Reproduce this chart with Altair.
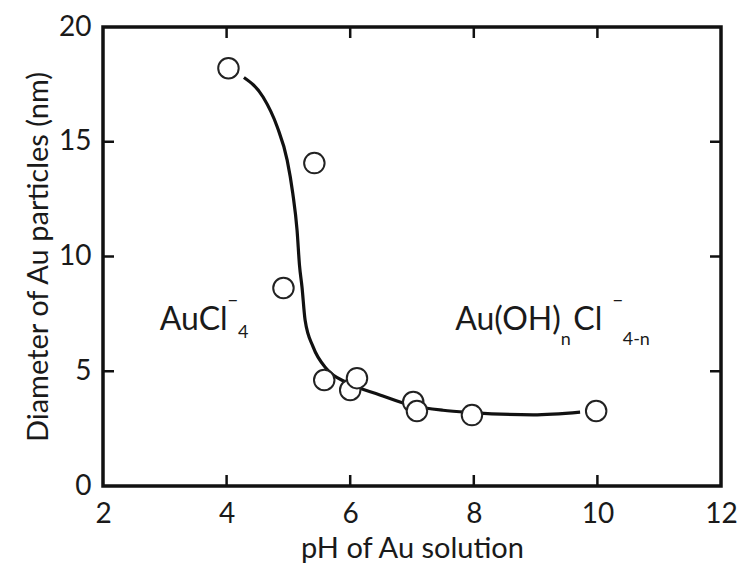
import altair as alt
import pandas as pd

# Measured particle diameters vs. pH
ph_values = [4.03, 5.42, 4.92, 5.58, 6.0, 6.11, 7.02, 7.08, 7.97, 9.98]
diameter_nm = [18.2, 14.07, 8.63, 4.62, 4.18, 4.7, 3.66, 3.27, 3.09, 3.27]

# Guide-to-the-eye trend curve
curve_ph = [4.28, 4.59, 4.82, 4.98, 5.07, 5.14, 5.18, 5.22, 5.27, 5.40, 5.62,
            5.95, 6.48, 6.97, 7.5, 7.97, 8.96, 9.72]
curve_nm = [17.8, 16.95, 15.64, 14.2, 12.77, 11.15, 9.6, 8.67, 7.23, 6.06, 5.1,
            4.5, 3.97, 3.53, 3.3, 3.2, 3.1, 3.22]

x_ticks = [2, 4, 6, 8, 10, 12]
y_ticks = [0, 5, 10, 15, 20]
x_inner_ticks = [4, 6, 8, 10]
y_inner_ticks = [5, 10, 15]

W, H = 618, 459
FONT = "Lato"
INK = "#1a1a1a"
TICK = 11

points = pd.DataFrame({"ph": ph_values, "d": diameter_nm})
curve = pd.DataFrame({"ph": curve_ph, "d": curve_nm})
xt = pd.DataFrame({"ph": x_inner_ticks})
yt = pd.DataFrame({"d": y_inner_ticks})

xscale = alt.Scale(domain=[2, 12], nice=False, zero=False)
yscale = alt.Scale(domain=[0, 20], nice=False)

xaxis = alt.Axis(values=x_ticks, format="d", title="pH of Au solution", grid=False, ticks=False,
                 domain=False, labelFont=FONT, labelFontSize=28, labelColor=INK,
                 labelPadding=14, titleFont=FONT, titleFontSize=29, titleFontWeight="normal",
                 titleColor=INK, titlePadding=6, labelFlush=False)
yaxis = alt.Axis(values=y_ticks, format="d", title="Diameter of Au particles (nm)", grid=False,
                 ticks=False, domain=False, labelFont=FONT, labelFontSize=28, labelColor=INK,
                 labelPadding=12, titleFont=FONT, titleFontSize=29, titleFontWeight="normal",
                 titleColor=INK, titlePadding=5, labelFlush=False)

line = alt.Chart(curve).mark_line(color="#111", strokeWidth=3.2, interpolate="monotone").encode(
    x=alt.X("ph:Q", scale=xscale, axis=xaxis),
    y=alt.Y("d:Q", scale=yscale, axis=yaxis),
)

dots = alt.Chart(points).mark_point(shape="circle", filled=False, fill="white", fillOpacity=1,
                                    stroke="#222", strokeWidth=2, size=420, opacity=1).encode(
    x=alt.X("ph:Q", scale=xscale), y=alt.Y("d:Q", scale=yscale)
)

# Inward ticks on all four sides
top_ticks = alt.Chart(xt).mark_rule(color="#111", strokeWidth=2.5).encode(
    x=alt.X("ph:Q", scale=xscale), y=alt.value(0), y2=alt.value(TICK))
bottom_ticks = alt.Chart(xt).mark_rule(color="#111", strokeWidth=2.5).encode(
    x=alt.X("ph:Q", scale=xscale), y=alt.value(H), y2=alt.value(H - TICK))
left_ticks = alt.Chart(yt).mark_rule(color="#111", strokeWidth=2.5).encode(
    y=alt.Y("d:Q", scale=yscale), x=alt.value(0), x2=alt.value(TICK))
right_ticks = alt.Chart(yt).mark_rule(color="#111", strokeWidth=2.5).encode(
    y=alt.Y("d:Q", scale=yscale), x=alt.value(W), x2=alt.value(W - TICK))


def label(text, x, y, size, align="left", baseline="alphabetic"):
    return alt.Chart(pd.DataFrame({"t": [text]})).mark_text(
        font=FONT, fontSize=size, color=INK, align=align, baseline=baseline
    ).encode(x=alt.X("xx:Q", scale=xscale), y=alt.Y("yy:Q", scale=yscale),
             text="t:N").transform_calculate(xx=str(x), yy=str(y))


labels = [
    label("AuCl", 2.92, 6.80, 32),
    label("\u2013", 4.10, 8.10, 20, align="center", baseline="middle"),
    label("4", 4.27, 6.45, 18, align="center"),
    label("Au(OH)", 7.70, 6.80, 32),
    label("n", 9.49, 6.14, 18, align="center"),
    label("Cl", 9.61, 6.80, 32),
    label("\u2013", 10.33, 8.10, 20, align="center", baseline="middle"),
    label("4-n", 10.41, 6.14, 18),
]

chart = alt.layer(line, dots, top_ticks, bottom_ticks, left_ticks, right_ticks, *labels).properties(
    width=W, height=H,
    autosize=alt.AutoSizeParams(type="none"),
    padding={"left": 103, "top": 27, "right": 17, "bottom": 77},
).configure(
    background="white",
    view=alt.ViewConfig(stroke="#111", strokeWidth=3.5),
)

chart.save("out.html", embed_options={"renderer": "svg", "actions": False})
